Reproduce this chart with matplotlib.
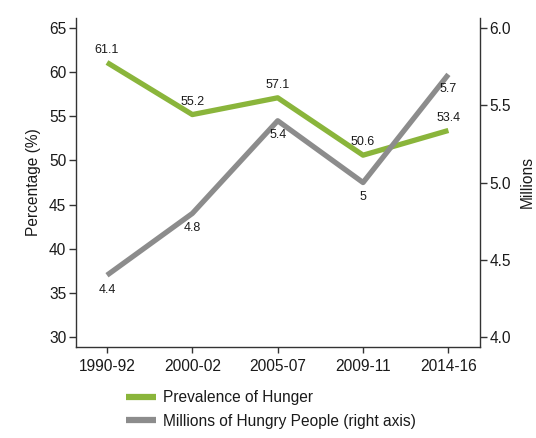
import matplotlib
matplotlib.use('Agg')
import matplotlib.pyplot as plt

# Данные графика
periods = ['1990-92', '2000-02', '2005-07', '2009-11', '2014-16']
prevalence = [61.1, 55.2, 57.1, 50.6, 53.4]
hungry_millions = [4.4, 4.8, 5.4, 5.0, 5.7]
hungry_labels = ['4.4', '4.8', '5.4', '5', '5.7']

green = '#8AB53B'
grey = '#8C8C8C'
text_col = '#1a1a1a'

plt.rcParams['font.family'] = ['Liberation Sans', 'DejaVu Sans']

fig = plt.figure(figsize=(5.36, 4.38), dpi=100)
ax = fig.add_axes([0.1418, 0.2078, 0.7537, 0.7511])
ax2 = ax.twinx()

x = list(range(len(periods)))

# Левая ось - доля голодающих, правая - миллионы людей
ax.plot(x, prevalence, color=green, lw=3.8, solid_capstyle='butt', zorder=3)
ax2.plot(x, hungry_millions, color=grey, lw=3.8, solid_capstyle='butt', zorder=2)

for xi, v in zip(x, prevalence):
    ax.annotate(f'{v}', (xi, v), xytext=(0, 5), textcoords='offset points',
                ha='center', va='bottom', fontsize=9, color=text_col)
for xi, v, lab in zip(x, hungry_millions, hungry_labels):
    ax2.annotate(lab, (xi, v), xytext=(0, -6), textcoords='offset points',
                 ha='center', va='top', fontsize=9, color=text_col)

ax.set_xlim(-0.363, 4.37)
ax.set_ylim(28.87, 66.14)
ax2.set_ylim(4 + (28.87 - 30) / 17.5, 4 + (66.14 - 30) / 17.5)

ax.set_xticks(x)
ax.set_xticklabels(periods)
ax.set_yticks(range(30, 70, 5))
ax2.set_yticks([4.0, 4.5, 5.0, 5.5, 6.0])
ax2.set_yticklabels(['4.0', '4.5', '5.0', '5.5', '6.0'])

for a in (ax, ax2):
    a.spines['top'].set_visible(False)
    for s in a.spines.values():
        s.set_color('#333333')
        s.set_linewidth(1.0)
    a.tick_params(axis='both', labelsize=11.2, colors='#333333',
                  labelcolor=text_col, length=5, width=1.0, pad=2)
ax.spines['right'].set_visible(False)
ax2.spines['left'].set_visible(False)
ax2.spines['bottom'].set_visible(False)
ax.tick_params(axis='x', length=4.5, pad=4)

ax.set_ylabel('Percentage (%)', fontsize=11.2, color=text_col, labelpad=6)
ax2.set_ylabel('Millions', fontsize=11.2, color=text_col, labelpad=6)

# Легенда под графиком
h1 = plt.Line2D([], [], color=green, lw=4.5, solid_capstyle='butt')
h2 = plt.Line2D([], [], color=grey, lw=4.5, solid_capstyle='butt')
fig.legend([h1, h2], ['Prevalence of Hunger', 'Millions of Hungry People (right axis)'],
           loc='upper left', bbox_to_anchor=(126 / 536, 1 - 390 / 438),
           frameon=False, fontsize=11.2, handlelength=1.9, handletextpad=0.5,
           borderpad=0, borderaxespad=0, labelspacing=0.55, labelcolor=text_col)

fig.savefig('out.png', dpi=100)
